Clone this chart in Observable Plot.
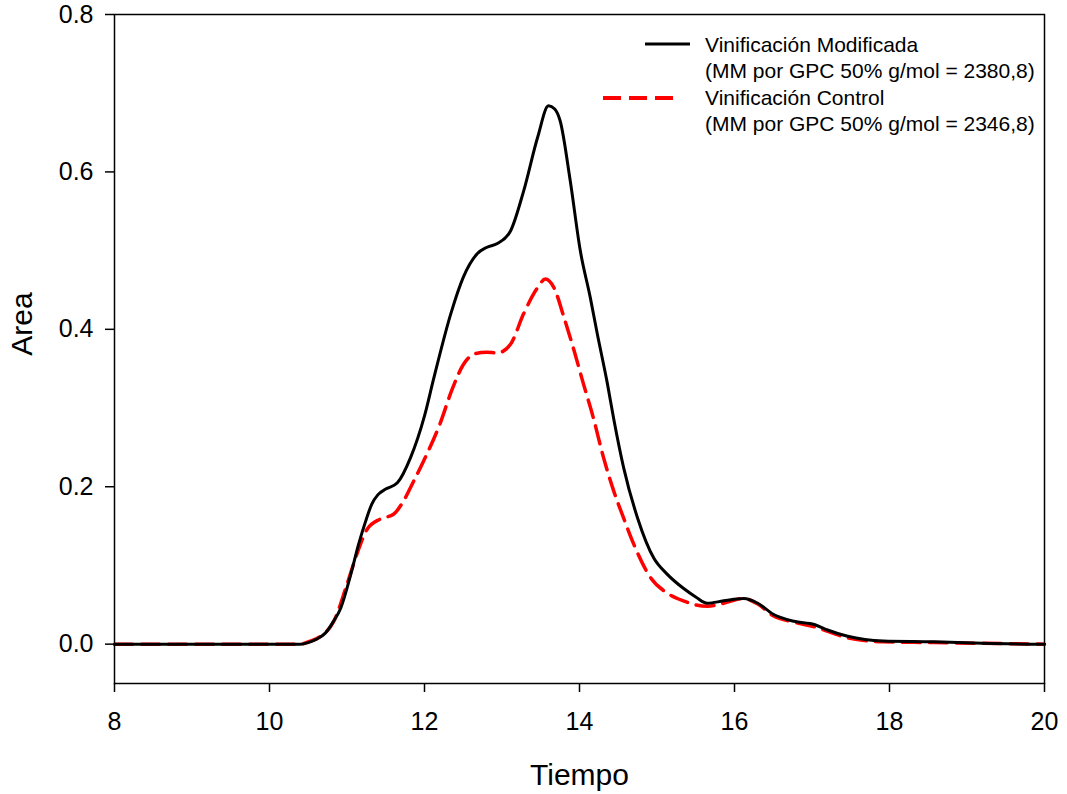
<!DOCTYPE html>
<html><head><meta charset="utf-8">
<script src="https://cdn.jsdelivr.net/npm/d3@7"></script>
<script src="https://cdn.jsdelivr.net/npm/@observablehq/plot@0.6"></script>
<style>
body{margin:0;background:#fff;font-family:Arial,"Liberation Sans",sans-serif;}
#wrap{position:relative;width:1067px;height:794px;}
#legend{position:absolute;left:0;top:0;pointer-events:none;}
</style></head><body><div id="wrap"></div>
<script>
// Vinificación Modificada (black solid)
const tiempoMod = [8,9,10,10.4,10.5,10.6,10.72,10.82,10.92,11.05,11.15,11.24,11.32,11.4,11.5,11.65,11.82,12.0,12.12,12.34,12.5,12.68,12.8,12.94,13.11,13.28,13.46,13.6,13.68,13.75,13.88,14.01,14.14,14.23,14.36,14.44,14.57,14.75,14.96,15.13,15.34,15.5,15.65,15.86,16.12,16.3,16.5,16.77,17.03,17.2,17.46,17.92,18.57,19.2,20];
const areaMod   = [0,0,0,0,0.002,0.006,0.014,0.028,0.046,0.089,0.127,0.156,0.178,0.19,0.197,0.205,0.237,0.29,0.338,0.42,0.466,0.496,0.504,0.509,0.525,0.576,0.644,0.684,0.68,0.665,0.589,0.5,0.44,0.394,0.331,0.287,0.224,0.16,0.109,0.089,0.071,0.06,0.052,0.055,0.058,0.052,0.038,0.029,0.025,0.018,0.01,0.004,0.003,0.001,0];
// Vinificación Control (red dashed)
const tiempoCtl = [8,9,10,10.4,10.5,10.66,10.83,11.0,11.14,11.26,11.43,11.6,11.73,11.86,11.99,12.2,12.35,12.5,12.65,12.8,12.94,13.11,13.28,13.46,13.56,13.67,13.8,13.93,14.05,14.18,14.31,14.44,14.57,14.7,14.92,15.13,15.34,15.65,15.86,16.12,16.3,16.5,16.77,17.03,17.46,17.92,18.57,19.2,20];
const areaCtl   = [0,0,0,0,0.003,0.01,0.029,0.076,0.118,0.146,0.159,0.165,0.182,0.207,0.233,0.28,0.322,0.355,0.369,0.371,0.37,0.381,0.42,0.453,0.464,0.453,0.415,0.373,0.331,0.287,0.237,0.195,0.16,0.127,0.084,0.065,0.055,0.048,0.052,0.058,0.051,0.036,0.028,0.022,0.008,0.003,0.002,0.001,0];

const xTicks = [8,10,12,14,16,18,20];
const yTicks = [0,0.2,0.4,0.6,0.8];
const xLabel = "Tiempo";
const yLabel = "Area";
const legendLines = [
  ["Vinificación Modificada", "(MM por GPC 50% g/mol = 2380,8)"],
  ["Vinificación Control", "(MM por GPC 50% g/mol = 2346,8)"]
];

const mod = tiempoMod.map((t,i)=>({t, a: areaMod[i]}));
const ctl = tiempoCtl.map((t,i)=>({t, a: areaCtl[i]}));

const font = 'Arial, "Liberation Sans", sans-serif';
const chart = Plot.plot({
  width: 1067, height: 794,
  marginLeft: 114, marginRight: 23, marginTop: 14, marginBottom: 111,
  style: {fontFamily: font, background: "#fff", color: "#000"},
  x: {domain: [8,20]},
  y: {domain: [-0.05,0.8]},
  marks: [
    Plot.axisX({ticks: xTicks, tickSize: 9, tickPadding: 20, fontSize: 25, strokeWidth: 1.5, label: null, tickFormat: d3.format("d")}),
    Plot.axisY({ticks: yTicks, tickSize: 9, tickPadding: 12, fontSize: 25, strokeWidth: 1.5, label: null, tickFormat: d3.format(".1f")}),
    Plot.line(ctl, {x: "t", y: "a", stroke: "#ff0000", strokeWidth: 3.5, strokeDasharray: "18,9", curve: "monotone-x"}),
    Plot.line(mod, {x: "t", y: "a", stroke: "#000", strokeWidth: 3, curve: "monotone-x"}),
    Plot.frame({stroke: "#000", strokeWidth: 1.5}),
    Plot.text([xLabel], {frameAnchor: "bottom", dy: 92, lineAnchor: "middle", textAnchor: "middle", fontSize: 30, fill: "#000"}),
    Plot.text([yLabel], {frameAnchor: "left", dx: -92, dy: -25, rotate: -90, textAnchor: "middle", lineAnchor: "middle", fontSize: 30, fill: "#000"})
  ]
});
const wrap = document.getElementById("wrap");
wrap.appendChild(chart);

// legend overlay inside the plot area
const ns = "http://www.w3.org/2000/svg";
const leg = document.createElementNS(ns, "svg");
leg.setAttribute("id","legend");
leg.setAttribute("width", 1067); leg.setAttribute("height", 160);
const styles = [
  {x1: 645, x2: 690, y: 44, stroke: "#000", w: 3, dash: null, tx: 705, ty: [52, 78]},
  {x1: 603, x2: 673, y: 98, stroke: "#ff0000", w: 4, dash: "18,8", tx: 705, ty: [105, 131]}
];
styles.forEach((s, i) => {
  const l = document.createElementNS(ns, "line");
  l.setAttribute("x1", s.x1); l.setAttribute("x2", s.x2);
  l.setAttribute("y1", s.y); l.setAttribute("y2", s.y);
  l.setAttribute("stroke", s.stroke); l.setAttribute("stroke-width", s.w);
  if (s.dash) l.setAttribute("stroke-dasharray", s.dash);
  leg.appendChild(l);
  legendLines[i].forEach((txt, j) => {
    const t = document.createElementNS(ns, "text");
    t.setAttribute("x", s.tx); t.setAttribute("y", s.ty[j]);
    t.setAttribute("font-size", 21); t.setAttribute("font-family", font);
    t.setAttribute("fill", "#000");
    t.textContent = txt;
    leg.appendChild(t);
  });
});
wrap.appendChild(leg);
</script></body></html>
